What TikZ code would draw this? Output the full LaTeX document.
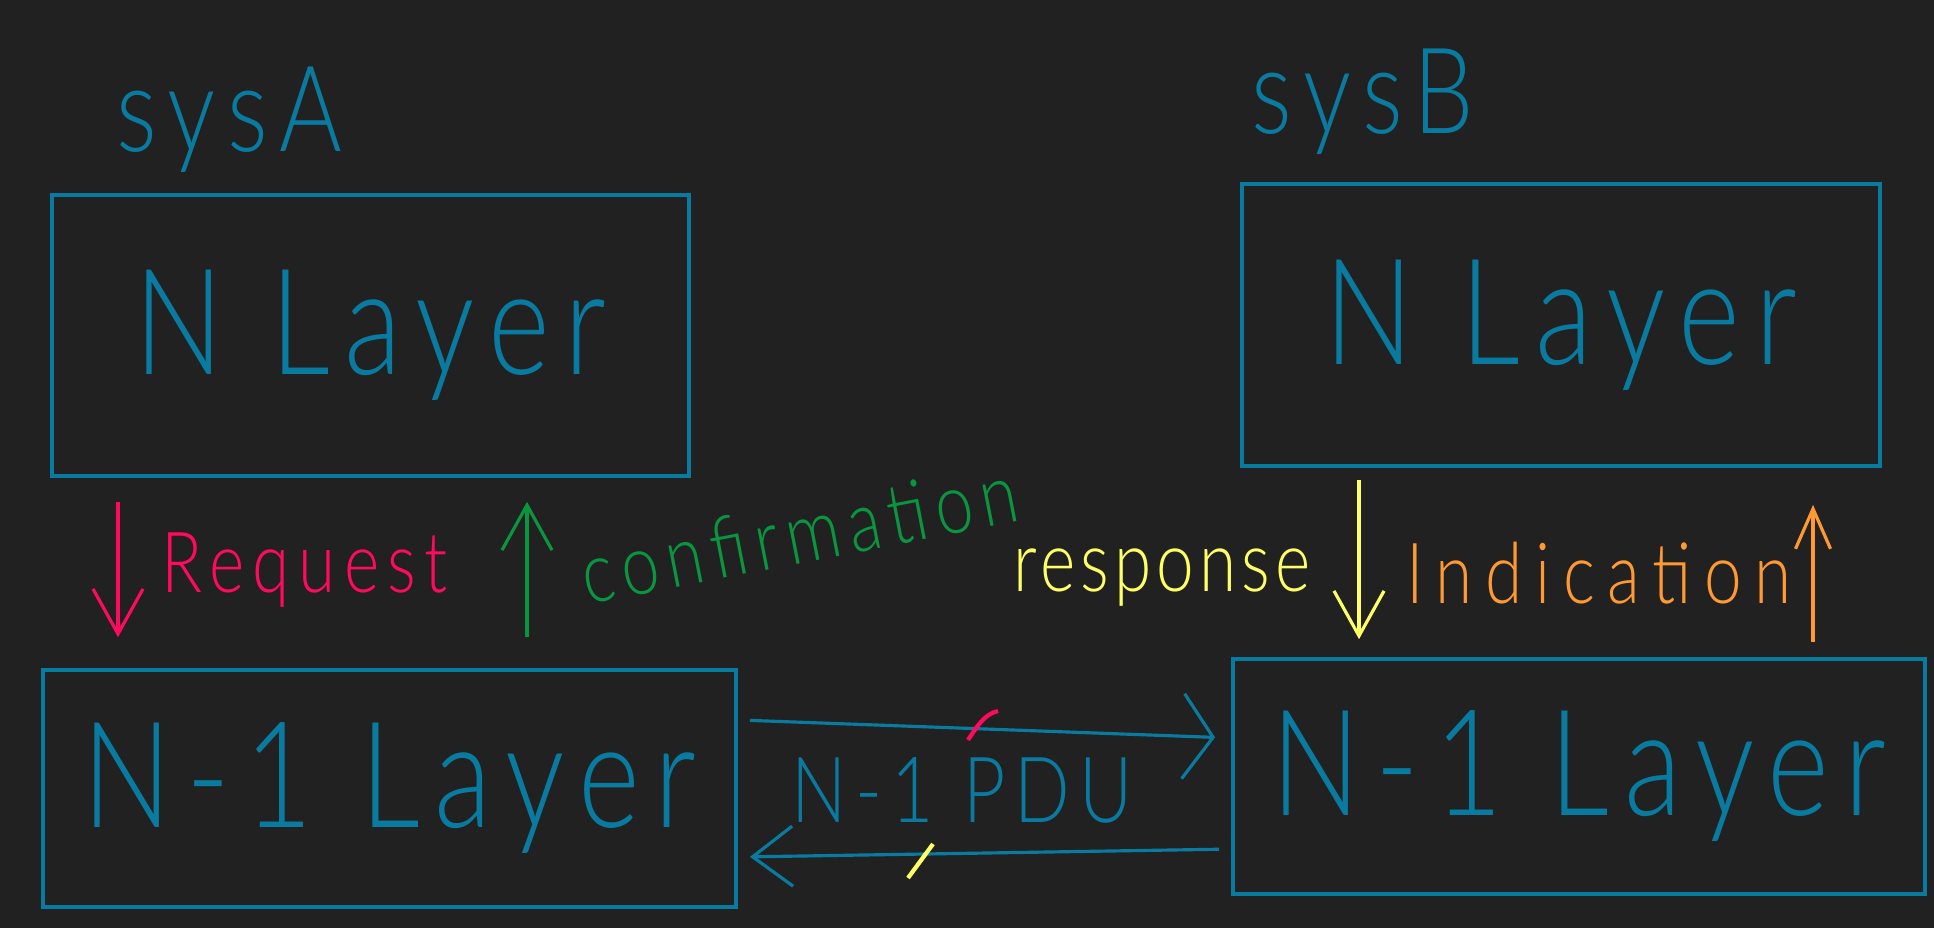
\documentclass[tikz,border=0pt]{standalone}
\usepackage{fontspec}
\setmainfont{Lato}
\newfontfamily\hand[FakeStretch=0.8,UprightFont={* Light},LetterSpace=10]{Lato}
\usetikzlibrary{arrows.meta,positioning,calc}
\definecolor{board}{HTML}{212121}
\definecolor{ink}{HTML}{0A7BA0}
\definecolor{pinkink}{HTML}{FF0A5F}
\definecolor{greenink}{HTML}{0A9540}
\definecolor{yellowink}{HTML}{FFFF66}
\definecolor{orangeink}{HTML}{FF9A33}

\begin{document}
\begin{tikzpicture}[x=0.01cm,y=-0.01cm,
  box/.style={draw=ink,line width=1pt,inner sep=0pt,text=ink,font=\hand\fontsize{42}{48}\selectfont},
  sys/.style={text=ink,font=\hand\fontsize{34}{40}\selectfont},
  lab/.style={font=\hand\fontsize{24}{28}\selectfont,inner sep=1pt},
  arr/.style={line width=0.9pt,-{Straight Barb[length=4.5mm,width=5mm]}},
  pdu/.style={draw=ink,line width=0.9pt}]
  \fill[board] (0,0) rectangle (1934,928);
  \useasboundingbox (0,0) rectangle (1934,928);
  % the two systems
  \node[sys] (sa) at (229,120) {sysA};
  \node[sys] (sb) at (1363,102) {sysB};
  \node[box,minimum width=6.37cm,minimum height=2.81cm] (nA) at (370.5,335.5) {N Layer};
  \node[box,minimum width=6.38cm,minimum height=2.82cm] (nB) at (1561,325) {N Layer};
  \node[box,minimum width=6.93cm,minimum height=2.37cm] (pA) at (389.5,788.5) {N-1 Layer};
  \node[box,minimum width=6.92cm,minimum height=2.35cm] (pB) at (1579,776.5) {N-1 Layer};
  % service primitives
  \coordinate (xreq) at (118,0);
  \coordinate (xcon) at (527,0);
  \coordinate (xres) at (1359,0);
  \coordinate (xind) at (1813,0);
  \draw[arr,pinkink,shorten <=2.4mm,shorten >=3.1mm] (nA.south -| xreq) -- (pA.north -| xreq);
  \draw[arr,greenink,shorten <=3.1mm,shorten >=2.4mm] (pA.north -| xcon) -- (nA.south -| xcon);
  \draw[arr,yellowink,shorten <=1.2mm,shorten >=1.8mm] (nB.south -| xres) -- (pB.north -| xres);
  \draw[arr,orangeink,shorten <=1.5mm,shorten >=3.7mm,-{Straight Barb[length=4mm,width=3.5mm]}] (pB.north -| xind) -- (nB.south -| xind);
  \node[lab,text=pinkink] (lreq) at (305,570) {Request};
  \node[lab,text=greenink,rotate=11] (lcon) at (799,533) {confirmation};
  \node[lab,text=yellowink] (lres) at (1162,578) {\addfontfeatures{LetterSpace=6}response};
  \node[lab,text=orangeink] (lind) at (1599,573) {\addfontfeatures{LetterSpace=15}Indication};
  % peer exchange
  \draw[pdu,shorten <=1.2mm,shorten >=1.6mm,-{Straight Barb[length=3mm,width=8.5mm]}]
    ([yshift=6.85mm]pA.east) -- ([yshift=3.85mm]pB.west);
  \draw[pdu,shorten <=1.2mm,shorten >=1.2mm,-{Straight Barb[length=4mm,width=6mm]}]
    ([yshift=-7.25mm]pB.west) -- ([yshift=-6.85mm]pA.east);
  \node[text=ink,font=\hand\fontsize{26}{30}\selectfont] (lpdu) at (962,790) {N-1 PDU};
  \draw[pinkink,line width=1.2pt] (968,740) .. controls (976,728) and (984,714) .. (998,711);
  \draw[yellowink,line width=1.2pt] (908,878) -- (933,844);
\end{tikzpicture}
\end{document}
